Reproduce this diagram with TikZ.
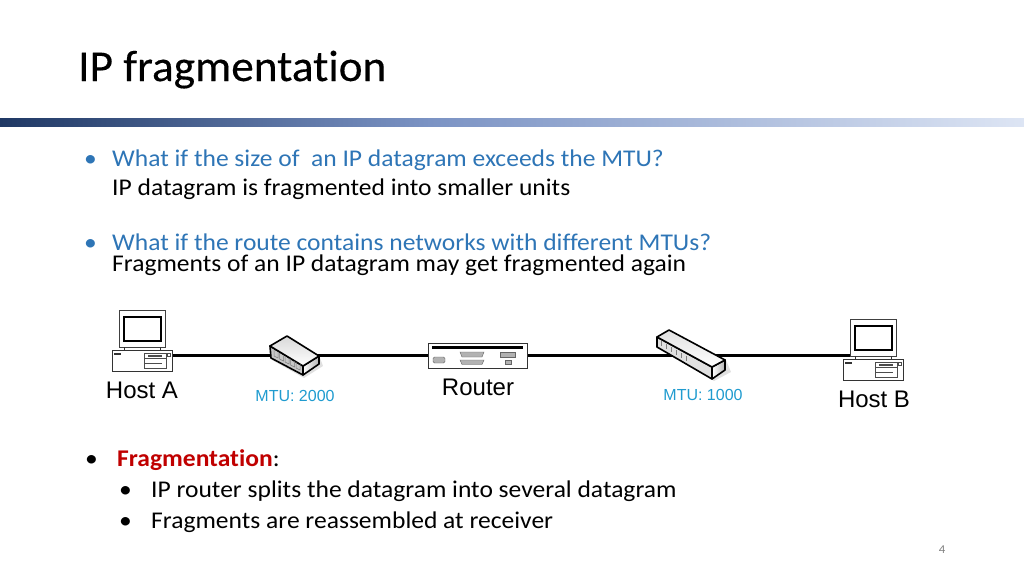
\documentclass[tikz,border=0pt]{standalone}
\usepackage{fontspec}
\setmainfont{Carlito}[Ligatures=NoCommon,FakeStretch=1.064]
\newfontfamily\titlefont{Carlito}[Ligatures=NoCommon,FakeStretch=1.03,FakeBold=0.3]
\newfontfamily\labelfont{Liberation Sans}
\definecolor{headline}{HTML}{2E75B6}
\definecolor{accent}{HTML}{C00000}
\definecolor{mtu}{HTML}{1F9BCF}
\definecolor{barnavy}{HTML}{1F3864}
\definecolor{barmid}{HTML}{7B93C4}
\definecolor{barlight}{HTML}{DDE5F4}
\tikzset{
  txt/.style={anchor=base west,inner sep=0pt,font=\fontsize{24}{28}\selectfont},
  question/.style={txt,text=headline},
  devlabel/.style={anchor=base,inner sep=0pt,font=\labelfont\fontsize{24}{28}\selectfont},
  mtulabel/.style={anchor=base,inner sep=0pt,text=mtu,font=\labelfont\fontsize{16}{20}\selectfont},
  link/.style={line width=3pt,black},
  port/.style={fill=black!30,draw=black!60,line width=.4pt},
  sw/.style={black,line width=1.6pt,line join=round},
  pics/hostpc/.style={code={
    % monitor
    \draw [black!75,line width=.8pt,fill=white] (7,-40) rectangle (53,-3);
    \draw [black,line width=2pt,fill=white] (12,-33) rectangle (49,-9);
    \draw [black!80,line width=.6pt] (12,-3) -- (12,0) (48,-3) -- (48,0);
    % base
    \draw [black!80,line width=.8pt,fill=white] (0,0) rectangle (60,21);
    \fill [black!80] (2,2.5) rectangle (9,5);
    \draw [black!70,line width=.5pt] (32,3) rectangle (54,18) (32,8) -- (54,8) (32,13) -- (50,13);
    \fill [black!70] (36,4.5) rectangle (50,6.5);
    \draw [black!70,line width=.5pt] (55,3) rectangle (58,6);
  }},
}
\begin{document}
\begin{tikzpicture}[x=1pt,y=-1pt]
  \useasboundingbox (0,0) rectangle (1024,576);
  % title and bar
  \node [anchor=base west,inner sep=0pt,font=\titlefont\fontsize{44}{50}\selectfont] (title) at (78,81) {IP fragmentation};
  \fill [left color=barnavy,right color=barmid] (0,118) rectangle (430,126);
  \fill [left color=barmid,right color=barlight] (430,118) rectangle (1024,126);
  % upper text
  \node [question] (bulleta) at (84,166) {•};
  \node [question] (qa) at (112,166) {What if the size of\ \ an IP datagram exceeds the MTU?};
  \node [txt] (aa) at (112,195) {IP datagram is fragmented into smaller units};
  \node [question] (bulletb) at (84,250) {•};
  \node [question] (qb) at (112,250) {What if the route contains networks with different MTUs?};
  \node [txt] (ab) at (112,271) {Fragments of an IP datagram may get fragmented again};
  % network
  \coordinate (hosta) at (172,355);
  \coordinate (hostb) at (851,355);
  \coordinate (swa) at (295,355);
  \coordinate (rt) at (478,355);
  \coordinate (swb) at (690,355);
  \draw [link] (hosta) -- (swa);
  \draw [link] (swa) -- (rt);
  \draw [link] (rt) -- (swb);
  \draw [link] (swb) -- (hostb);
  \pic at (112,350) {hostpc};
  \pic at (843,359) {hostpc};
  % first switch
  \fill [black!12] (272,360) -- (304,378) -- (323,366) -- (320,358) -- cycle;
  \draw [sw,fill=black!22] (270,346) -- (271,358) -- (303,375) -- (303,366) -- cycle;
  \draw [sw,left color=white,right color=black!30] (303,366) -- (303,375) -- (319,364) -- (319,356) -- cycle;
  \draw [sw,top color=black!15,bottom color=white] (270,346) -- (287,336) -- (319,356) -- (303,366) -- cycle;
  \foreach \i in {0,...,4}
    \draw [black!50,line width=.5pt] ({274+5.5*\i},{350+3*\i}) -- ++(0,6) -- ++(4,2) -- ++(0,-6);
  % router
  \draw [black!80,line width=.9pt,fill=white] (428,343) rectangle (527,368);
  \fill [black] (432,346) rectangle (523,349);
  \filldraw [port] (460,352) -- (484,352) -- (482,357) -- (462,357) -- cycle;
  \filldraw [port] (460,360) -- (484,360) -- (482,364.5) -- (462,364.5) -- cycle;
  \filldraw [port] (500,352) rectangle (515,357);
  \filldraw [port] (505,360) rectangle (511,364.5);
  \filldraw [port,rounded corners=1.5pt] (433,357) rectangle (445,363);
  % second switch
  \fill [black!12] (660,345) -- (714,381) -- (731,372) -- (726,360) -- cycle;
  \draw [sw,fill=black!12] (657,337) -- (657,347) -- (712,379) -- (712,367) -- cycle;
  \draw [sw,left color=white,right color=black!30] (712,367) -- (712,379) -- (725,370) -- (725,360) -- cycle;
  \draw [sw,top color=black!12,bottom color=white] (657,337) -- (669,330) -- (725,360) -- (712,367) -- cycle;
  \foreach \i in {0,...,5}
    \draw [black!50,line width=.5pt] ({661+5*\i},{341+3*\i}) -- ++(0,5);
  % labels
  \node [devlabel] (lhosta) at (142,398) {Host A};
  \node [mtulabel] (lmtua) at (295,401) {MTU: 2000};
  \node [devlabel] (lrouter) at (478,395) {Router};
  \node [mtulabel] (lmtub) at (703,400) {MTU: 1000};
  \node [devlabel] (lhostb) at (874,407) {Host B};
  % lower text
  \node [txt] (bulletc) at (85,466) {•};
  \node [txt] (frag) at (117,466) {\textcolor{accent}{\textbf{Fragmentation}}:};
  \node [txt] (bulletd) at (119,497) {•};
  \node [txt] (fraga) at (151,497) {IP router splits the datagram into several datagram};
  \node [txt] (bullete) at (119,528) {•};
  \node [txt] (fragb) at (151,528) {Fragments are reassembled at receiver};
  \node [anchor=base,inner sep=0pt,text=black!50,font=\fontsize{12}{14}\selectfont] (pagenum) at (942,553) {4};
\end{tikzpicture}
\end{document}
